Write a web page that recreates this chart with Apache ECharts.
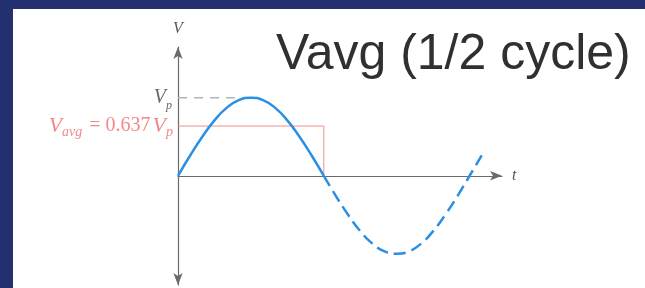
<!DOCTYPE html>
<html>
<head>
<meta charset="utf-8">
<script src="https://cdn.jsdelivr.net/npm/echarts@6/dist/echarts.min.js"></script>
<style>
  html, body { margin: 0; padding: 0; background: #22306f; }
  #chart { width: 645px; height: 288px; }
</style>
</head>
<body>
<div id="chart"></div>
<script>
// phase in degrees, voltage in units of Vp
var degSolid = [0, 15, 30, 45, 60, 75, 90, 105, 120, 135, 150, 165, 180];
var voltSolid = [0, 0.26, 0.5, 0.71, 0.87, 0.97, 1.0, 0.97, 0.87, 0.71, 0.5, 0.26, 0];
var degDashed = [180, 195, 210, 225, 240, 255, 270, 285, 300, 315, 330, 345, 360, 375];
var voltDashed = [0, -0.26, -0.5, -0.71, -0.87, -0.97, -1.0, -0.97, -0.87, -0.71, -0.5, -0.26, 0, 0.26];
var vPeak = 1.0;
var vAvg = 0.637;
var peakGuideEnd = 80;
var halfCycle = 180;

function pairs(xs, ys) {
    var out = [];
    for (var i = 0; i < xs.length; i++) {
        out.push([xs[i], ys[i]]);
    }
    return out;
}

var serifName = {
    fontFamily: "Liberation Serif",
    fontStyle: "italic",
    fontSize: 16,
    color: "#555"
};

var chart = echarts.init(document.getElementById("chart"));

chart.setOption({
    backgroundColor: "transparent",
    animation: false,
    graphic: [
        {
            type: "rect",
            left: 13,
            top: 9,
            z: -10,
            silent: true,
            shape: { width: 632, height: 279 },
            style: { fill: "#ffffff" }
        }
    ],
    title: {
        text: "Vavg (1/2 cycle)",
        left: 276,
        top: 30,
        padding: 0,
        textStyle: {
            fontFamily: "Liberation Sans",
            fontWeight: "normal",
            fontSize: 50,
            color: "#303030"
        }
    },
    grid: { left: 178, top: 47, width: 324, height: 238 },
    xAxis: {
        type: "value",
        min: 0,
        max: 400,
        name: "t",
        nameLocation: "end",
        nameGap: 10,
        nameTextStyle: serifName,
        axisLine: {
            lineStyle: { color: "#6a6a6a", width: 1.2 },
            symbol: ["none", "arrow"],
            symbolSize: [7, 12]
        },
        axisTick: { show: false },
        axisLabel: { show: false },
        splitLine: { show: false }
    },
    yAxis: {
        type: "value",
        min: -1.4,
        max: 1.65,
        name: "V",
        nameLocation: "end",
        nameGap: 10,
        nameTextStyle: serifName,
        axisLine: {
            lineStyle: { color: "#6a6a6a", width: 1.2 },
            symbol: ["arrow", "arrow"],
            symbolSize: [7, 12]
        },
        axisTick: { show: false },
        axisLabel: { show: false },
        splitLine: { show: false }
    },
    series: [
        {
            type: "line",
            data: [[0, vPeak], [peakGuideEnd, vPeak]],
            symbol: "none",
            lineStyle: { color: "#b4b4b4", width: 1.5, type: [9, 7] },
            z: 1
        },
        {
            type: "line",
            data: [[0, vAvg], [halfCycle, vAvg], [halfCycle, 0]],
            symbol: "none",
            lineStyle: { color: "#f28c8c", width: 1 },
            z: 1
        },
        {
            type: "line",
            data: pairs(degSolid, voltSolid),
            smooth: true,
            symbol: "none",
            lineStyle: { color: "#2b8fe6", width: 2.5 },
            z: 3
        },
        {
            type: "line",
            data: pairs(degDashed, voltDashed),
            smooth: true,
            symbol: "none",
            lineStyle: { color: "#2b8fe6", width: 2.5, type: [12, 6] },
            z: 3
        },
        {
            type: "scatter",
            symbolSize: 0,
            data: [[0, vPeak]],
            label: {
                show: true,
                position: "left",
                distance: 6,
                formatter: "{v|V}{s|p}",
                rich: {
                    v: { fontFamily: "Liberation Serif", fontStyle: "italic", fontSize: 20, color: "#444", lineHeight: 28, verticalAlign: "middle" },
                    s: { fontFamily: "Liberation Serif", fontStyle: "italic", fontSize: 12, color: "#444", lineHeight: 28, verticalAlign: "bottom" }
                }
            }
        },
        {
            type: "scatter",
            symbolSize: 0,
            data: [[0, vAvg]],
            label: {
                show: true,
                position: "left",
                distance: 5,
                formatter: "{v|V}{s|avg}{n| = 0.637}{v|V}{s|p}",
                rich: {
                    v: { fontFamily: "Liberation Serif", fontStyle: "italic", fontSize: 22, color: "#f06a6a", lineHeight: 26, verticalAlign: "middle" },
                    s: { fontFamily: "Liberation Serif", fontStyle: "italic", fontSize: 14, color: "#f06a6a", lineHeight: 26, verticalAlign: "bottom" },
                    n: { fontFamily: "Liberation Serif", fontSize: 20, color: "#f06a6a", lineHeight: 26, verticalAlign: "middle", padding: [0, 2, 0, 2] }
                }
            }
        }
    ]
});
</script>
</body>
</html>
